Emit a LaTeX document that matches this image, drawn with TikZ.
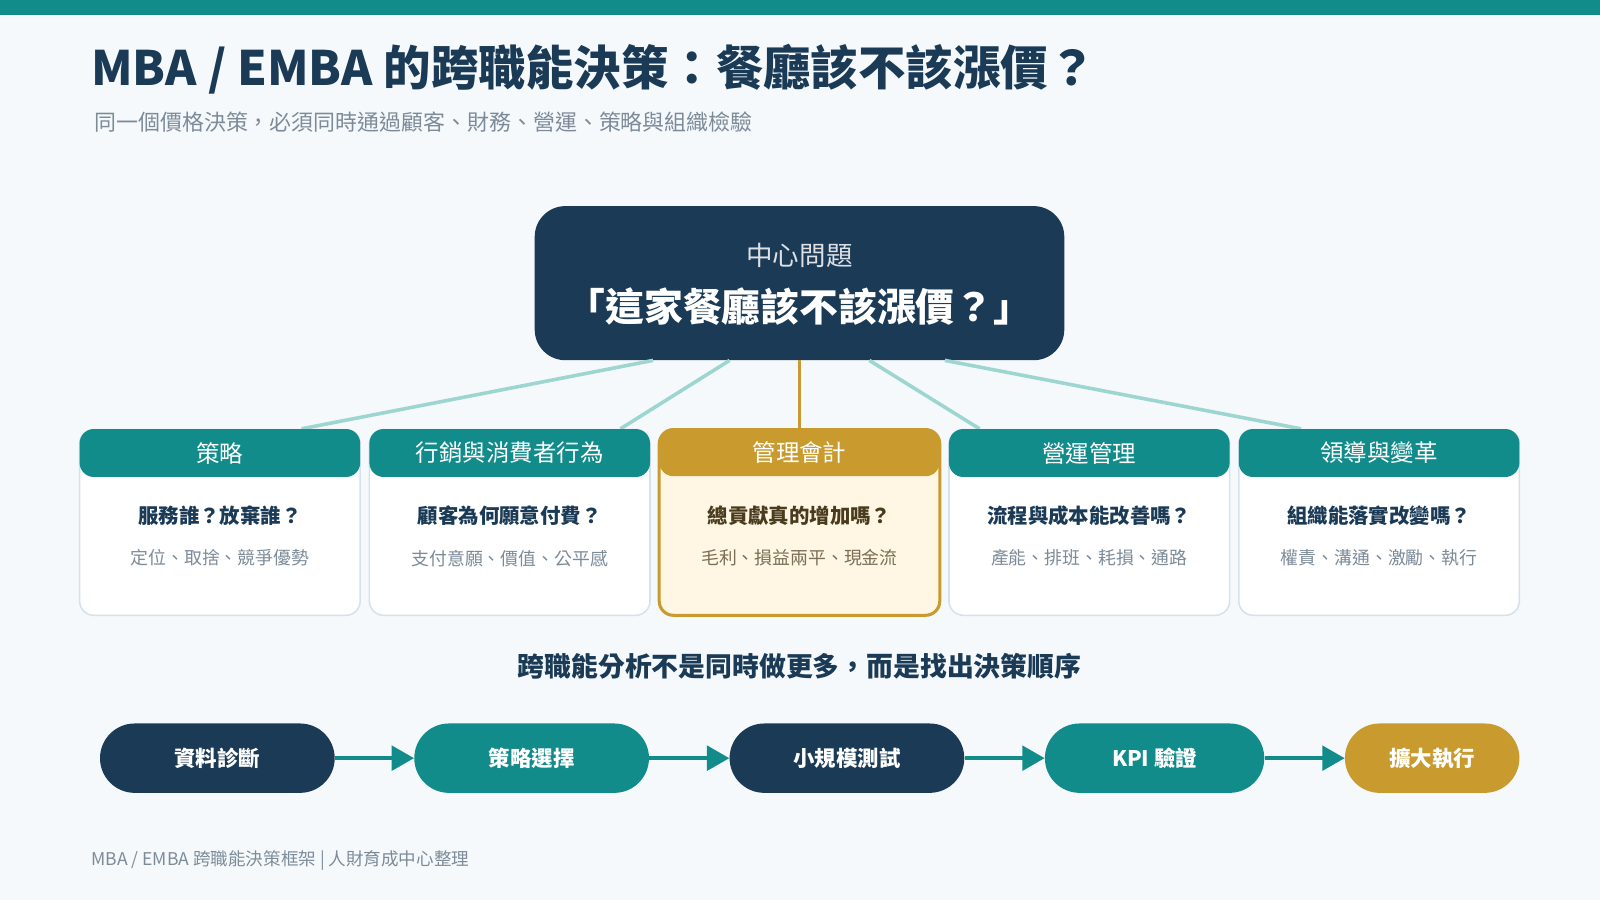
\documentclass[tikz,border=0pt]{standalone}
\usepackage{fontspec}
\setmainfont{Noto Sans CJK TC}
\usetikzlibrary{arrows.meta,positioning}
\definecolor{navy}{HTML}{1A3A56}
\definecolor{teal}{HTML}{128B8B}
\definecolor{spokecol}{HTML}{9DD6D0}
\definecolor{gold}{HTML}{C99A2E}
\definecolor{cream}{HTML}{FFF7E4}
\definecolor{cardline}{HTML}{D6E1EB}
\definecolor{greytext}{HTML}{7D8B99}
\definecolor{browntext}{HTML}{4A3B1E}
\definecolor{tantext}{HTML}{7A6E55}
\definecolor{bgcol}{HTML}{F5F9FC}
\newcommand{\fs}[1]{\fontsize{#1}{#1}\selectfont}
\tikzset{
  cardbox/.style={draw=cardline, line width=1.5pt, fill=white, rounded corners=14pt,
    minimum width=275pt, minimum height=182pt, inner sep=0pt},
  cardhead/.style={fill=teal, rounded corners=14pt, minimum width=275pt, minimum height=47pt,
    inner sep=0pt, text=white, font=\fs{23}},
  question/.style={text=navy, font=\fs{20}\bfseries},
  keywords/.style={text=greytext, font=\fs{17.5}},
  spoke/.style={draw=spokecol, line width=3.5pt},
  pill/.style={rounded corners=34pt, minimum height=68pt, inner sep=0pt, text=white,
    font=\fs{21}\bfseries},
  flow/.style={draw=teal, line width=4pt, -{Triangle[length=22pt,width=24pt]}},
}
\begin{document}
\begin{tikzpicture}[x=1pt, y=-1pt]
\useasboundingbox (0,0) rectangle (1568,882);
\fill[bgcol] (0,0) rectangle (1568,882);
\fill[teal] (0,0) rectangle (1568,15);
% title
\node[anchor=west, text=navy, font=\fs{46.5}\bfseries] (title) at (86,68) {MBA / EMBA 的跨職能決策：餐廳該不該漲價？};
\node[anchor=west, text=greytext, font=\fs{21.5}] (subtitle) at (89,120) {同一個價格決策，必須同時通過顧客、財務、營運、策略與組織檢驗};
% central question
\node[fill=navy, rounded corners=30pt, minimum width=519pt, minimum height=151pt, inner sep=0pt] (q) at (783.5,277.5) {};
\node[text=navy!15, font=\fs{26}] (qlabel) at (783.5,250) {中心問題};
\node[text=white, font=\fs{38}\bfseries] (qtext) at (783.5,300) {「這家餐廳該不該漲價？」};
% cards
\node[cardbox] (strat) at (215.5,512) {};
\node[cardbox] (mkt) at (499.5,512) {};
\node[cardbox, draw=gold, line width=3pt, fill=cream] (acct) at (783.5,512) {};
\node[cardbox] (ops) at (1067.5,512) {};
\node[cardbox] (lead) at (1351.5,512) {};
% spokes
\draw[spoke] ([xshift=-143.5pt]q.south) -- ([xshift=80pt]strat.north);
\draw[spoke] ([xshift=-68.5pt]q.south) -- ([xshift=108.5pt]mkt.north);
\draw[draw=gold, line width=3pt] (q.south) -- (acct.north);
\draw[spoke] ([xshift=68.5pt]q.south) -- ([xshift=-107.5pt]ops.north);
\draw[spoke] ([xshift=142.5pt]q.south) -- ([xshift=-76.5pt]lead.north);
% card headers
\node[cardhead, below=0pt of strat.north] (strathead) {策略};
\node[cardhead, below=0pt of mkt.north] (mkthead) {行銷與消費者行為};
\node[cardhead, fill=gold, below=0pt of acct.north] (accthead) {管理會計};
\node[cardhead, below=0pt of ops.north] (opshead) {營運管理};
\node[cardhead, below=0pt of lead.north] (leadhead) {領導與變革};
% card texts
\node[question] (stratq) at (215.5,505) {服務誰？放棄誰？};
\node[keywords] (stratk) at (215.5,547) {定位、取捨、競爭優勢};
\node[question] (mktq) at (499.5,505) {顧客為何願意付費？};
\node[keywords] (mktk) at (499.5,547) {支付意願、價值、公平感};
\node[question, text=browntext] (acctq) at (783.5,505) {總貢獻真的增加嗎？};
\node[keywords, text=tantext] (acctk) at (783.5,547) {毛利、損益兩平、現金流};
\node[question] (opsq) at (1067.5,505) {流程與成本能改善嗎？};
\node[keywords] (opsk) at (1067.5,547) {產能、排班、耗損、通路};
\node[question] (leadq) at (1351.5,505) {組織能落實改變嗎？};
\node[keywords] (leadk) at (1351.5,547) {權責、溝通、激勵、執行};
% sequence
\node[text=navy, font=\fs{26.3}\bfseries] (motto) at (783.5,653) {跨職能分析不是同時做更多，而是找出決策順序};
\node[pill, fill=navy, minimum width=230pt] (data) at (213,743) {資料診斷};
\node[pill, fill=teal, minimum width=230pt] (choose) at (521,743) {策略選擇};
\node[pill, fill=navy, minimum width=230pt] (pilot) at (830,743) {小規模測試};
\node[pill, fill=teal, minimum width=215pt] (kpi) at (1131.5,743) {KPI 驗證};
\node[pill, fill=gold, minimum width=171pt] (scale) at (1403.5,743) {擴大執行};
\draw[flow] (data) -- (choose);
\draw[flow] (choose) -- (pilot);
\draw[flow] (pilot) -- (kpi);
\draw[flow] (kpi) -- (scale);
% footer
\node[anchor=west, text=greytext, font=\fs{17.2}] (footer) at (86,843) {MBA / EMBA 跨職能決策框架 | 人財育成中心整理};
\end{tikzpicture}
\end{document}
